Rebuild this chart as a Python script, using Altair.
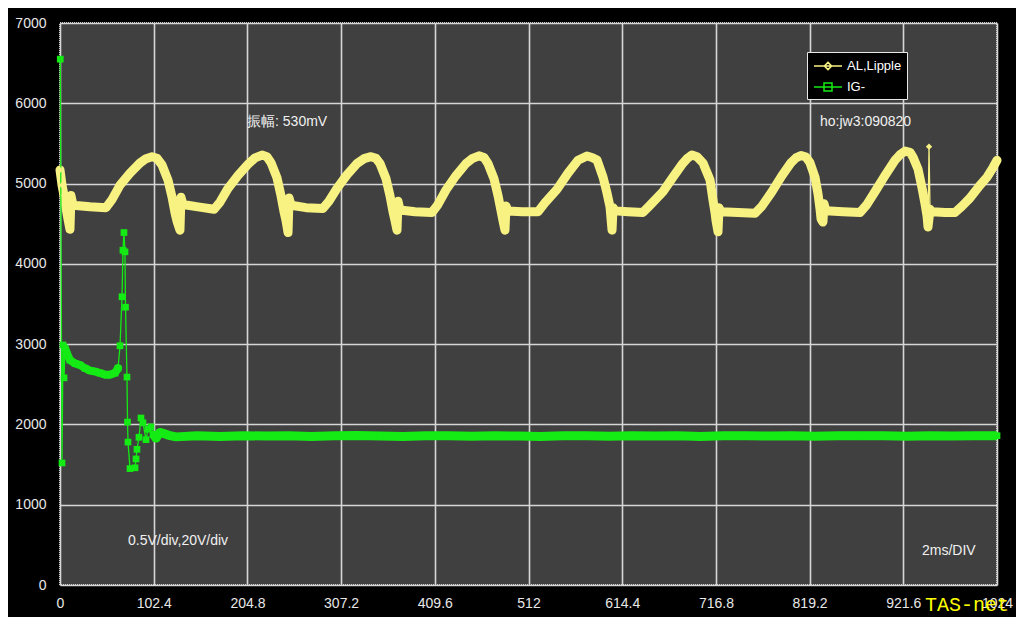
import altair as alt
import pandas as pd

# ---------------- data ----------------
series_names = ["AL,Lipple", "IG-"]
series_colors = ["#f8f283", "#14ea14"]

ripple_x = [
    0.0, 2.2, 4.4, 6.6, 8.7,
    10.9, 12.0, 14.2, 32.8, 50.3, 56.8, 65.6, 76.5, 87.4, 94.0, 100.5, 106.0, 111.5, 118.0, 122.4, 125.7, 127.9,
    131.1, 132.2, 134.4, 150.8, 168.3, 174.9, 183.6, 194.5, 205.5, 213.1, 220.8, 226.2, 230.6, 237.2, 241.5, 244.8, 247.0,
    249.2, 250.3, 252.5, 268.8, 287.4, 294.0, 302.7, 313.7, 324.6, 332.2, 339.9, 345.3, 349.7, 356.3, 360.6, 363.9, 366.1,
    368.3, 369.4, 371.6, 388.0, 406.5, 413.1, 421.8, 432.8, 443.7, 450.3, 457.9, 463.4, 467.7, 474.3, 478.7, 482.0, 484.1,
    486.3, 487.4, 489.6, 504.9, 522.4, 530.0, 543.2, 555.2, 566.1, 575.9, 581.4, 586.9, 593.4, 597.8, 601.1, 602.2,
    603.3, 604.4, 606.5, 620.7, 637.1, 644.8, 659.0, 669.9, 679.8, 685.2, 690.7, 696.1, 702.7, 710.4, 713.6, 715.8, 716.9,
    719.1, 720.2, 722.4, 741.0, 759.5, 767.2, 778.1, 789.0, 798.9, 804.3, 809.8, 815.3, 819.6, 825.1, 828.4, 830.6, 831.7,
    833.8, 834.9, 837.1, 855.7, 874.3, 881.9, 891.8, 902.7, 912.5, 918.0, 923.5, 928.9, 932.2, 937.7, 942.0, 945.3, 947.5,
    948.6, 949.7, 950.8, 953.0, 967.2, 978.1, 985.8, 994.5, 1005.4, 1013.1, 1019.6, 1024.0,
]
ripple_y = [
    5170, 4980, 4850, 4700, 4560,
    4430, 4850, 4730, 4710, 4700, 4800, 4980, 5130, 5256, 5310, 5335, 5315, 5231, 5044, 4833, 4633, 4530,
    4420, 4830, 4740, 4710, 4680, 4770, 4940, 5100, 5240, 5320, 5355, 5335, 5260, 5070, 4850, 4650, 4540,
    4390, 4820, 4730, 4700, 4690, 4780, 4940, 5110, 5250, 5310, 5335, 5315, 5250, 5060, 4850, 4650, 4540,
    4420, 4780, 4670, 4650, 4640, 4740, 4920, 5100, 5250, 5310, 5345, 5325, 5250, 5060, 4850, 4660, 4540,
    4420, 4720, 4660, 4650, 4650, 4760, 4930, 5130, 5290, 5343, 5325, 5294, 5082, 4883, 4708, 4560,
    4420, 4700, 4660, 4650, 4640, 4730, 4900, 5080, 5240, 5310, 5356, 5335, 5256, 5044, 4795, 4640, 4540,
    4400, 4700, 4650, 4640, 4630, 4720, 4900, 5100, 5260, 5320, 5350, 5330, 5260, 5080, 4870, 4680, 4560,
    4520, 4750, 4660, 4650, 4640, 4740, 4920, 5120, 5290, 5360, 5405, 5390, 5330, 5180, 4950, 4750, 4600,
    4460, 5460, 4680, 4650, 4640, 4640, 4720, 4820, 4980, 5080, 5200, 5290,
]

ig_x = [
    0.3, 2.2, 3.3, 4.4, 5.5, 7.7, 10.9, 16.4, 21.9, 27.3, 32.8, 38.2, 43.7, 49.2, 54.6, 60.1, 63.4,
    65.6, 67.8, 68.8, 69.9, 71.0, 71.6, 73.2, 73.8, 74.3, 76.5, 82.0, 83.1, 84.1, 86.3, 88.5, 90.7,
    94.0, 96.2, 99.4, 101.6, 104.9, 109.3, 112.6, 120.2, 126.8,
    150, 175, 200, 225, 250, 275, 300, 325, 350, 375, 400, 425, 450, 475, 500, 525, 550, 575,
    600, 625, 650, 675, 700, 725, 750, 775, 800, 825, 850, 875, 900, 925, 950, 975, 1000, 1024,
]
ig_y = [
    6550, 1520, 2990, 2580, 2950, 2880, 2800, 2760, 2740, 2700, 2670, 2660, 2640, 2620, 2620, 2640, 2700,
    2980, 3590, 4170, 4390, 4150, 3460, 2590, 2030, 1780, 1450, 1460, 1570, 1690, 1840, 2080, 2020,
    1810, 1940, 1970, 1880, 1830, 1900, 1890, 1860, 1845,
    1860, 1850, 1860, 1855, 1860, 1850, 1860, 1862, 1855, 1850, 1858, 1860, 1852, 1860, 1855, 1850, 1860, 1858,
    1852, 1860, 1855, 1860, 1850, 1860, 1858, 1855, 1860, 1852, 1860, 1858, 1860, 1852, 1860, 1855, 1858, 1860,
]

x_ticks = [0, 102.4, 204.8, 307.2, 409.6, 512, 614.4, 716.8, 819.2, 921.6, 1024]
y_ticks = [0, 1000, 2000, 3000, 4000, 5000, 6000, 7000]

notes_text = ["振幅: 530mV", "ho:jw3:090820", "0.5V/div,20V/div", "2ms/DIV"]
notes_x = [204.4, 830.6, 74.3, 942.0]
notes_y = [5767, 5767, 548, 423]

brand_text = ["TAS-net"]
brand_x = [945.3]
brand_y = [-250]

# legend symbols: a short line with the series marker on it
legend_symbols = ["M-1.75,0H1.75M0,-0.45L0.45,0L0,0.45L-0.45,0Z",
                  "M-1.75,0H1.75M-0.5,-0.5H0.5V0.5H-0.5Z"]

# ---------------- tables ----------------
df = pd.concat([
    pd.DataFrame({"x": ripple_x, "y": ripple_y, "series": series_names[0],
                  "order": range(len(ripple_x))}),
    pd.DataFrame({"x": ig_x, "y": ig_y, "series": series_names[1],
                  "order": range(len(ig_x))}),
], ignore_index=True)
notes = pd.DataFrame({"x": notes_x, "y": notes_y, "t": notes_text})
brand = pd.DataFrame({"x": brand_x, "y": brand_y, "t": brand_text})

FONT = "Liberation Sans"

x_scale = alt.Scale(domain=[0, 1024], nice=False, zero=False)
y_scale = alt.Scale(domain=[0, 7000], nice=False)

X = alt.X("x:Q", scale=x_scale,
          axis=alt.Axis(values=x_ticks, labelExpr="format(datum.value, '~g')",
                        title=None, ticks=False, domain=False, labelPadding=11,
                        labelFontSize=14, labelFont=FONT, labelColor="#e8e8e8",
                        gridColor="#d6d6d6", gridWidth=1.6, labelFlush=False))
Y = alt.Y("y:Q", scale=y_scale,
          axis=alt.Axis(values=y_ticks, format="d", title=None, ticks=False,
                        domain=False, labelPadding=14, labelFontSize=14,
                        labelFont=FONT, labelColor="#e8e8e8",
                        gridColor="#d6d6d6", gridWidth=1.6))

base = alt.Chart(df)
is_al = alt.datum.series == series_names[0]
is_ig = alt.datum.series == series_names[1]

thin_y = base.transform_filter(is_al).mark_line(
    color=series_colors[0], strokeWidth=1.3).encode(x=X, y=Y, order="order:Q")
thick_y = base.transform_filter(is_al & (alt.datum.y < 5420)).mark_line(
    color=series_colors[0], strokeWidth=9, strokeJoin="round", strokeCap="round"
).encode(x=X, y=Y, order="order:Q")
thin_g = base.transform_filter(is_ig).mark_line(
    color=series_colors[1], strokeWidth=1.3).encode(x=X, y=Y, order="order:Q")
thick_g = base.transform_filter(
    is_ig & (alt.datum.x >= 100)
).mark_line(
    color=series_colors[1], strokeWidth=9, strokeJoin="round", strokeCap="butt"
).encode(x=X, y=Y, order="order:Q")
thick_g0 = base.transform_filter(
    is_ig & (alt.datum.x >= 5.5) & (alt.datum.x <= 63.4)
).mark_line(
    color=series_colors[1], strokeWidth=8, strokeJoin="round", strokeCap="round"
).encode(x=X, y=Y, order="order:Q")

pts_y = base.transform_filter(is_al).mark_point(
    filled=True, opacity=1, size=40, shape="diamond", color=series_colors[0]
).encode(x=X, y=Y)
pts_g = base.transform_filter(is_ig).mark_point(
    filled=True, opacity=1, size=45, shape="square", color=series_colors[1]
).encode(x=X, y=Y)

leg = alt.Legend(
    title=None, orient="none", legendX=747, legendY=29,
    fillColor="#000000", strokeColor="#e8e8e8", padding=5,
    labelColor="#ffffff", labelFont=FONT, labelFontSize=13,
    symbolSize=256, symbolStrokeWidth=1.5, symbolOpacity=1, rowPadding=5,
    symbolOffset=7, labelOffset=10,
)
legend_layer = base.mark_point(filled=False, opacity=0, strokeWidth=1.5).encode(
    x=X, y=Y,
    color=alt.Color("series:N", scale=alt.Scale(domain=series_names, range=series_colors),
                    legend=leg),
    shape=alt.Shape("series:N", scale=alt.Scale(domain=series_names, range=legend_symbols),
                    legend=leg),
)

note_layer = alt.Chart(notes).mark_text(
    align="left", baseline="middle", font=FONT, fontSize=14, color="#f0f0f0"
).encode(x=alt.X("x:Q", scale=x_scale), y=alt.Y("y:Q", scale=y_scale), text="t:N")

brand_layer = alt.Chart(brand).mark_text(
    align="left", baseline="middle", font="Liberation Mono", fontSize=20, color="#ffff00"
).encode(x=alt.X("x:Q", scale=x_scale), y=alt.Y("y:Q", scale=y_scale), text="t:N")

chart = alt.layer(thin_y, thick_y, thin_g, thick_g0, thick_g, pts_y, pts_g, legend_layer,
                  note_layer, brand_layer).properties(
    width=937, height=562,
    autosize=alt.AutoSizeParams(type="none"),
    padding={"left": 52, "top": 15, "right": 19, "bottom": 32},
    background="#000000",
).configure_view(
    fill="#404040", stroke="#c8c8c8", strokeWidth=2, strokeDash=[1, 1]
)

chart.save("out.html", embed_options={"renderer": "svg", "actions": False})
